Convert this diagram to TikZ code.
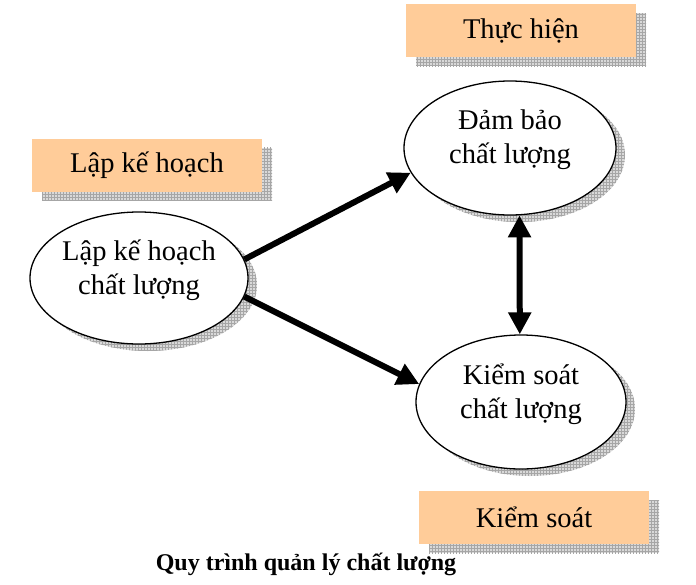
\documentclass[tikz,border=0pt]{standalone}
\usepackage{fontspec}
\setmainfont{Liberation Serif}
\usetikzlibrary{shapes.geometric,shadows,arrows.meta,patterns}
\definecolor{peach}{HTML}{FFCC99}
\tikzset{
  every node/.style={font=\fontsize{28.5}{34}\selectfont, align=center},
  grid shade/.style={fill=gray!30, opacity=1, postaction={pattern=grid, pattern color=gray!70}},
  phase/.style={fill=peach, minimum width=230pt, minimum height=53pt, inner sep=0pt,
    drop shadow={shadow xshift=10pt, shadow yshift=-9pt, grid shade}},
  task/.style={ellipse, draw, line width=1.3pt, fill=white, inner sep=0pt, text depth=22pt,
    drop shadow={shadow xshift=9pt, shadow yshift=-7pt, grid shade}},
  flow/.style={line width=6pt, -{Triangle[length=22pt,width=22pt]}},
  link/.style={line width=6pt, {Triangle[length=22pt,width=22pt]}-{Triangle[length=22pt,width=22pt]}}
}

\begin{document}
\begin{tikzpicture}[x=1pt, y=-1pt]
  \useasboundingbox (0,0) rectangle (696,584);
  \node[phase] (planbox) at (147,165) {Lập kế hoạch};
  \node[phase] (execbox) at (521,30.5) {Thực hiện};
  \node[phase] (ctrlbox) at (534,517.5) {Kiểm soát};
  \node[task, minimum width=218pt, minimum height=132pt] (plan) at (139,278) {Lập kế hoạch\\chất lượng};
  \node[task, minimum width=212pt, minimum height=134pt] (assure) at (510,148) {Đảm bảo\\chất lượng};
  \node[task, minimum width=210pt, minimum height=134pt] (control) at (521,402) {Kiểm soát\\chất lượng};
  \draw[flow] (plan.10) -- (assure.194);
  \draw[flow] (plan.-10) -- (control.170);
  \draw[link] (assure.-82) -- (control.91);
  \node[font=\fontsize{24}{28}\selectfont\bfseries] (caption) at (306,564) {Quy trình quản lý chất lượng};
\end{tikzpicture}
\end{document}
